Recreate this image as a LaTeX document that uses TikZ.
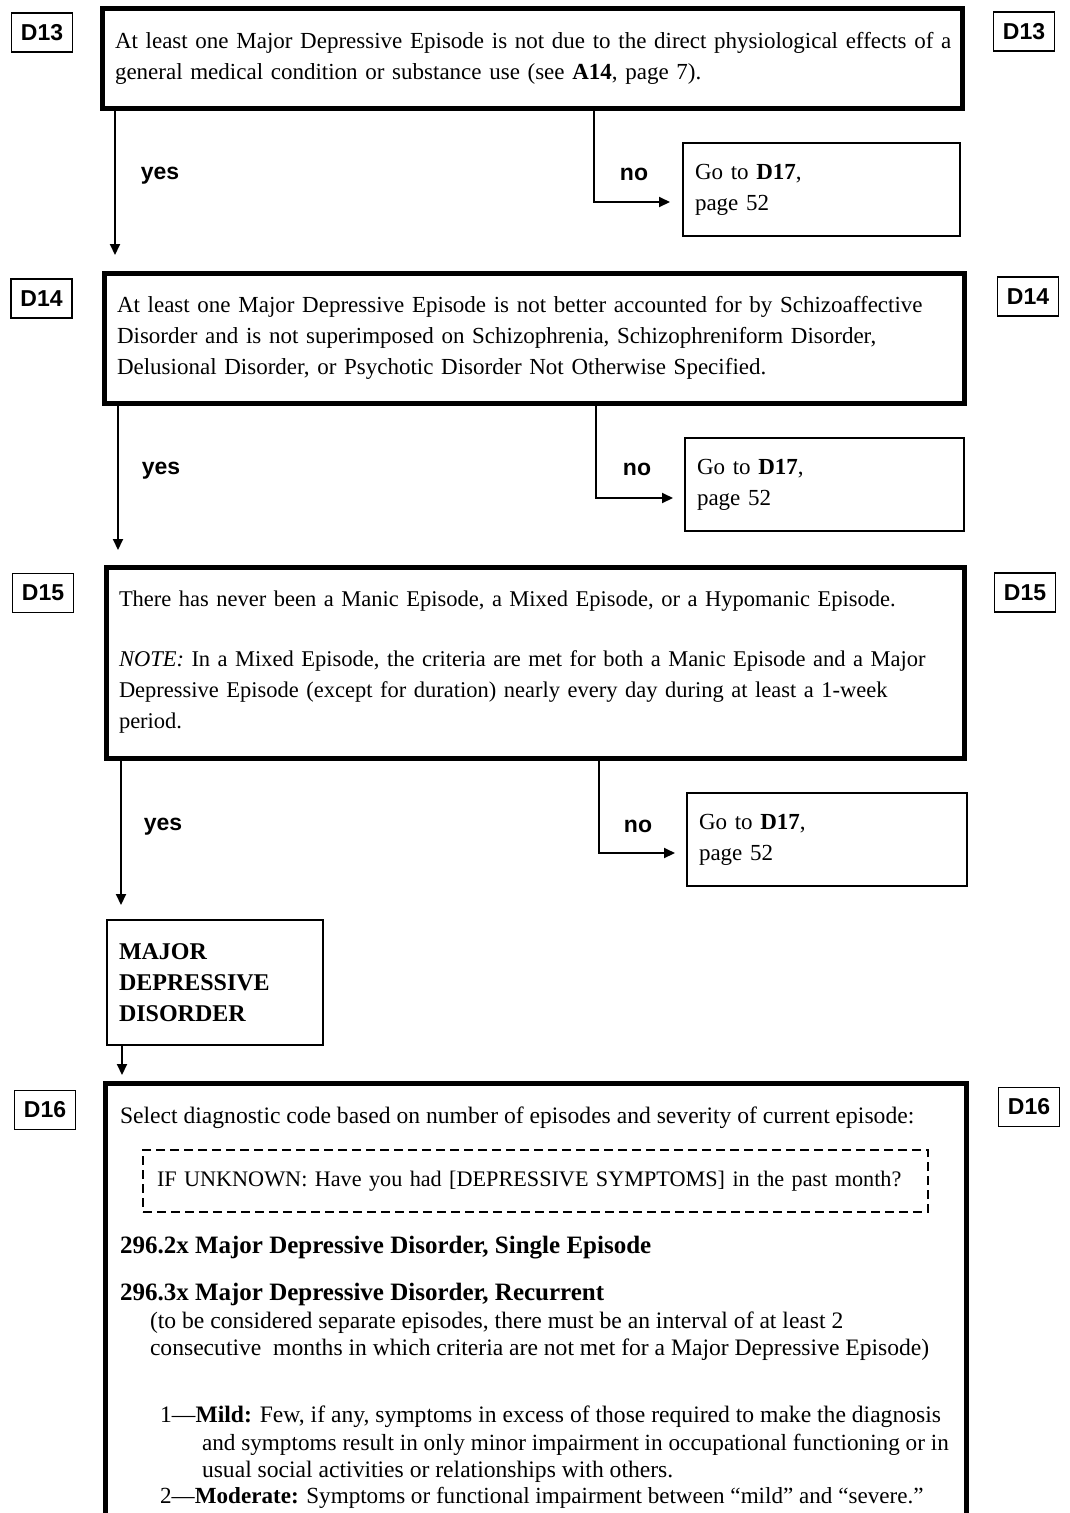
\documentclass[tikz,border=0pt]{standalone}
\usepackage{fontspec}
\setmainfont{Liberation Serif}
\newfontfamily\tagfont{Liberation Sans}
\usetikzlibrary{arrows.meta}

\begin{document}
\begin{tikzpicture}[x=1pt,y=-1pt,
  every node/.style={outer sep=0pt},
  txt/.style={font=\fontsize{23}{31}\selectfont},
  mainbox/.style={txt, draw, line width=5pt, anchor=north west,
    inner xsep=13pt, inner ysep=0pt, align=left},
  gobox/.style={txt, draw, line width=2pt, anchor=north west,
    inner xsep=12pt, inner ysep=0pt, align=left,
    minimum height=93pt},
  tagbox/.style={draw, line width=1.8pt, minimum width=61pt,
    minimum height=39pt, inner sep=0pt,
    font=\tagfont\bfseries\fontsize{23}{23}\selectfont},
  answer/.style={font=\tagfont\bfseries\fontsize{23}{23}\selectfont},
  conn/.style={line width=2pt, -{Triangle[length=11pt,width=10pt]}},
  line/.style={font=\fontsize{23.6}{31}\selectfont, anchor=base west, inner sep=0pt},
  headline/.style={line, font=\fontsize{25}{31}\selectfont\bfseries},
]
\useasboundingbox (0,0) rectangle (1069,1513);
\fill[white] (0,0) rectangle (1069,1513);
\clip (0,0) rectangle (1069,1513);

% ---------- D13 ----------
\node[mainbox, minimum width=860pt, minimum height=100pt, text width=834pt] (d13) at (102,8)
  {\mbox{At least one Major Depressive Episode is not due to the direct physiological effects of a}\\
   \mbox{general medical condition or substance use (see \textbf{A14}, page 7).}};
\node[tagbox] (l13) at (42,32.5) {D13};
\node[tagbox] (r13) at (1024,31.5) {D13};
\node[gobox, minimum width=277pt, text width=253pt] (g13) at (683,143)
  {Go to \textbf{D17},\\page 52};

% ---------- D14 ----------
\node[mainbox, minimum width=860pt, minimum height=130pt, text width=834pt] (d14) at (104,273)
  {\mbox{At least one Major Depressive Episode is not better accounted for by Schizoaffective}\\
   \mbox{Disorder and is not superimposed on Schizophrenia, Schizophreniform Disorder,}\\
   \mbox{Delusional Disorder, or Psychotic Disorder Not Otherwise Specified.}};
\node[tagbox] (l14) at (41.5,298.5) {D14};
\node[tagbox] (r14) at (1028,296.5) {D14};
\node[gobox, minimum width=279pt, text width=255pt] (g14) at (685,438)
  {Go to \textbf{D17},\\page 52};

% ---------- D15 ----------
\node[mainbox, minimum width=858pt, minimum height=191pt, text width=832pt,
  font=\fontsize{22.5}{31}\selectfont] (d15) at (106,567)
  {\mbox{There has never been a Manic Episode, a Mixed Episode, or a Hypomanic Episode.}\\[29pt]
   \mbox{\textit{NOTE:} In a Mixed Episode, the criteria are met for both a Manic Episode and a Major}\\
   \mbox{Depressive Episode (except for duration) nearly every day during at least a 1-week}\\
   \mbox{period.}};
\node[tagbox] (l15) at (43,593) {D15};
\node[tagbox] (r15) at (1025,592.5) {D15};
\node[gobox, minimum width=280pt, text width=256pt] (g15) at (687,793)
  {Go to \textbf{D17},\\page 52};

% ---------- diagnosis ----------
\node[draw, line width=2pt, anchor=north west, inner xsep=12pt, inner ysep=0pt,
  align=left, minimum width=216pt, minimum height=125pt, text width=192pt,
  font=\fontsize{24}{31}\selectfont\bfseries] (mdd) at (107,920)
  {MAJOR\\DEPRESSIVE\\DISORDER};

% ---------- D16 ----------
\node[draw, line width=5pt, anchor=north west, minimum width=861pt,
  minimum height=520pt] (d16) at (105,1083) {};
\node[tagbox] (l16) at (45,1110) {D16};
\node[tagbox] (r16) at (1029,1107) {D16};
\node[line] (s1) at (120,1123)
  {Select diagnostic code based on number of episodes and severity of current episode:};
\node[draw, dashed, dash pattern=on 9pt off 5pt, line width=1.8pt, anchor=north west,
  inner xsep=14pt, inner ysep=0pt, align=left, minimum width=785pt, minimum height=62pt,
  text width=757pt, font=\fontsize{22.2}{31}\selectfont] (ask) at (143,1150)
  {\mbox{IF UNKNOWN: Have you had [DEPRESSIVE SYMPTOMS] in the past month?}};
\node[headline] (s3) at (120,1253)
  {296.2x Major Depressive Disorder, Single Episode};
\node[headline] (s4) at (120,1300)
  {296.3x Major Depressive Disorder, Recurrent};
\node[line] (s5) at (150,1328)
  {(to be considered separate episodes, there must be an interval of at least 2};
\node[line] (s6) at (150,1355)
  {consecutive\ \ months in which criteria are not met for a Major Depressive Episode)};
\node[line] (s7) at (160,1422)
  {1---\textbf{Mild:} Few, if any, symptoms in excess of those required to make the diagnosis};
\node[line, font=\fontsize{23.2}{31}\selectfont] (s8) at (202,1450)
  {and symptoms result in only minor impairment in occupational functioning or in};
\node[line] (s9) at (202,1477)
  {usual social activities or relationships with others.};
\node[line, font=\fontsize{23.1}{31}\selectfont] (s10) at (160,1503)
  {2---\textbf{Moderate:} Symptoms or functional impairment between “mild” and “severe.”};

% ---------- branch points ----------
\coordinate (a13) at (115,0);
\coordinate (a14) at (118,0);
\coordinate (a15) at (121,0);
\coordinate (a16) at (122,0);
\coordinate (b13) at (594,202);
\coordinate (b14) at (596,498);
\coordinate (b15) at (599,853);

% ---------- yes connectors ----------
\draw[conn, shorten >=18pt] (d13.south -| a13) -- (d14.north -| a13);
\draw[conn, shorten >=17pt] (d14.south -| a14) -- (d15.north -| a14);
\draw[conn, shorten >=15pt] (d15.south -| a15) -- (mdd.north -| a15);
\draw[conn, shorten >=8pt] (mdd.south -| a16) -- (d16.north -| a16);

% ---------- no connectors ----------
\draw[conn, shorten >=13pt] (d13.south -| b13) -- (b13) -- (g13.west |- b13);
\draw[conn, shorten >=12pt] (d14.south -| b14) -- (b14) -- (g14.west |- b14);
\draw[conn, shorten >=12pt] (d15.south -| b15) -- (b15) -- (g15.west |- b15);

% ---------- answer labels ----------
\node[answer] (y13) at (160,176) {yes};
\node[answer] (y14) at (161,471) {yes};
\node[answer] (y15) at (163,827) {yes};
\node[answer] (n13) at (634,174) {no};
\node[answer] (n14) at (637,469) {no};
\node[answer] (n15) at (638,826) {no};
\end{tikzpicture}
\end{document}
